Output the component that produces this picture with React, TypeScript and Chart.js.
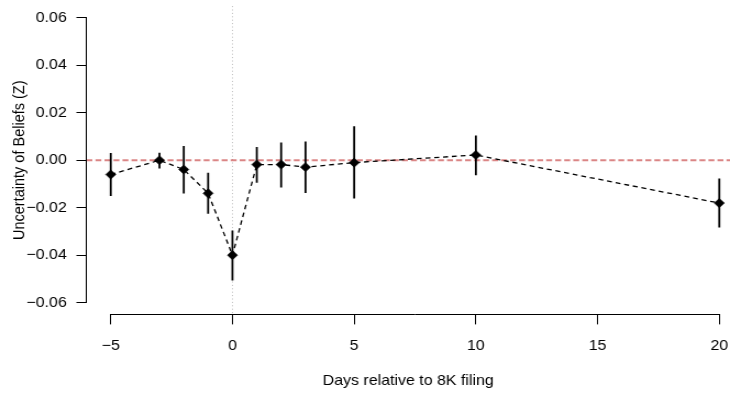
import { useEffect, useRef } from 'react';
import { Chart, registerables } from 'chart.js';

Chart.register(...registerables);

// ---- data ----
const DAYS = [-5, -3, -2, -1, 0, 1, 2, 3, 5, 10, 20];
const ESTIMATE = [-0.006, 0.0, -0.0039, -0.0139, -0.0399, -0.0018, -0.0018, -0.0029, -0.001, 0.0022, -0.018];
const CI_LOW = [-0.015, -0.0035, -0.014, -0.0225, -0.0505, -0.0095, -0.0115, -0.0138, -0.0161, -0.0063, -0.0283];
const CI_HIGH = [0.0031, 0.0032, 0.006, -0.0053, -0.0295, 0.0056, 0.0075, 0.0079, 0.0143, 0.0104, -0.0077];

const X_TICKS = [-5, 0, 5, 10, 15, 20];
const X_TICK_LABELS = ['\u22125', '0', '5', '10', '15', '20'];
const Y_TICKS = [-0.06, -0.04, -0.02, 0, 0.02, 0.04, 0.06];
const Y_TICK_LABELS = ['\u22120.06', '\u22120.04', '\u22120.02', '0.00', '0.02', '0.04', '0.06'];

const X_TITLE = 'Days relative to 8K filing';
const Y_TITLE = 'Uncertainty of Beliefs (Z)';

const REF_Y = 0; // horizontal reference line
const REF_X = 0; // vertical reference line

// ---- layout / style ----
const OUT_W = 730;
const OUT_H = 396;
const INNER_W = 664; // drawn narrower, stretched horizontally like the reference
const FONT = { family: "'Liberation Sans', Arial, Helvetica, sans-serif", size: 14.5 };

const align = (p: number) => Math.round(p - 0.5) + 0.5;

const decorPlugin = {
  id: 'decor',
  beforeDatasetsDraw(chart: any) {
    const { ctx, chartArea: a, scales } = chart;
    const x = scales.x;
    const y = scales.y;
    ctx.save();
    ctx.beginPath();
    ctx.rect(a.left, a.top, a.right - a.left, a.bottom - a.top);
    ctx.clip();

    // vertical dotted reference
    const vx = align(x.getPixelForValue(REF_X));
    ctx.strokeStyle = '#bdbdbd';
    ctx.lineWidth = 1;
    ctx.setLineDash([1, 2.4]);
    ctx.beginPath();
    ctx.moveTo(vx, a.top);
    ctx.lineTo(vx, a.bottom);
    ctx.stroke();

    // horizontal red dashed reference
    const hy = y.getPixelForValue(REF_Y);
    ctx.strokeStyle = 'rgba(205, 92, 92, 0.75)';
    ctx.lineWidth = 2;
    ctx.setLineDash([5.4, 2.8]);
    ctx.beginPath();
    ctx.moveTo(a.left, hy);
    ctx.lineTo(a.right, hy);
    ctx.stroke();

    // error bars
    ctx.setLineDash([]);
    ctx.strokeStyle = '#000';
    ctx.lineWidth = 1.8;
    DAYS.forEach((d, i) => {
      const px = x.getPixelForValue(d);
      ctx.beginPath();
      ctx.moveTo(px, y.getPixelForValue(CI_LOW[i]));
      ctx.lineTo(px, y.getPixelForValue(CI_HIGH[i]));
      ctx.stroke();
    });
    ctx.restore();
  },
  afterDraw(chart: any) {
    const { ctx, chartArea: a, scales } = chart;
    const x = scales.x;
    const y = scales.y;
    ctx.save();
    ctx.strokeStyle = '#000';
    ctx.lineWidth = 1;
    ctx.setLineDash([]);
    // y axis line (between first and last tick)
    const ax = align(a.left);
    ctx.beginPath();
    ctx.moveTo(ax, align(y.getPixelForValue(Y_TICKS[0])));
    ctx.lineTo(ax, align(y.getPixelForValue(Y_TICKS[Y_TICKS.length - 1])));
    ctx.stroke();
    // x axis line
    const ay = align(a.bottom);
    ctx.beginPath();
    ctx.moveTo(align(x.getPixelForValue(X_TICKS[0])), ay);
    ctx.lineTo(align(x.getPixelForValue(X_TICKS[X_TICKS.length - 1])), ay);
    ctx.stroke();
    ctx.restore();
  },
};

export default function App() {
  const canvasRef = useRef<HTMLCanvasElement | null>(null);

  useEffect(() => {
    const canvas = canvasRef.current;
    if (!canvas) return;
    const points = DAYS.map((d, i) => ({ x: d, y: ESTIMATE[i] }));
    const chart = new Chart(canvas, {
      type: 'line',
      data: {
        datasets: [
          {
            data: points,
            borderColor: '#000',
            borderWidth: 1.3,
            borderDash: [4.5, 3.5],
            backgroundColor: '#000',
            pointStyle: 'rectRot',
            pointRadius: 4.6,
            pointBorderWidth: 0.6,
            pointBackgroundColor: '#000',
            pointBorderColor: '#000',
            tension: 0,
            fill: false,
          },
        ],
      },
      options: {
        responsive: false,
        animation: false,
        devicePixelRatio: 1,
        layout: { autoPadding: false, padding: { top: 6.1, right: 0, bottom: 0, left: 0 } },
        plugins: {
          legend: { display: false },
          tooltip: { enabled: false },
        },
        scales: {
          x: {
            type: 'linear',
            position: 'bottom',
            min: -6,
            max: 20.44,
            afterBuildTicks: (scale: any) => {
              scale.ticks = X_TICKS.map((v) => ({ value: v }));
            },
            afterFit: (scale: any) => {
              scale.height = 81.6;
              scale.paddingLeft = 0;
              scale.paddingRight = 0;
            },
            grid: {
              display: true,
              drawOnChartArea: false,
              drawTicks: true,
              tickLength: 10,
              color: '#000',
              lineWidth: 1,
            },
            border: { display: false },
            ticks: {
              font: FONT,
              color: '#000',
              padding: 12.5,
              maxRotation: 0,
              autoSkip: false,
              callback: (_v: any, i: number) => X_TICK_LABELS[i],
            },
            title: {
              display: true,
              text: X_TITLE,
              font: FONT,
              color: '#000',
              padding: { top: 0, bottom: 6.5 },
            },
          },
          y: {
            type: 'linear',
            position: 'left',
            min: -0.0648,
            max: 0.0648,
            afterBuildTicks: (scale: any) => {
              scale.ticks = Y_TICKS.map((v) => ({ value: v }));
            },
            afterFit: (scale: any) => {
              scale.width = 78.6;
              scale.paddingTop = 0;
              scale.paddingBottom = 0;
            },
            grid: {
              display: true,
              drawOnChartArea: false,
              drawTicks: true,
              tickLength: 9.1,
              color: '#000',
              lineWidth: 1,
            },
            border: { display: false },
            ticks: {
              font: FONT,
              color: '#000',
              padding: 8.8,
              autoSkip: false,
              callback: (_v: any, i: number) => Y_TICK_LABELS[i],
            },
            title: {
              display: true,
              text: Y_TITLE,
              font: FONT,
              color: '#000',
              padding: { top: 9.5, bottom: 0 },
            },
          },
        },
      },
      plugins: [decorPlugin],
    } as any);
    return () => chart.destroy();
  }, []);

  return (
    <div
      style={{
        position: 'fixed',
        left: 0,
        top: 0,
        width: OUT_W,
        height: OUT_H,
        background: '#fff',
        overflow: 'hidden',
      }}
    >
      <canvas
        ref={canvasRef}
        width={INNER_W}
        height={OUT_H}
        style={{ display: 'block', width: `${OUT_W}px`, height: `${OUT_H}px` }}
      />
    </div>
  );
}
